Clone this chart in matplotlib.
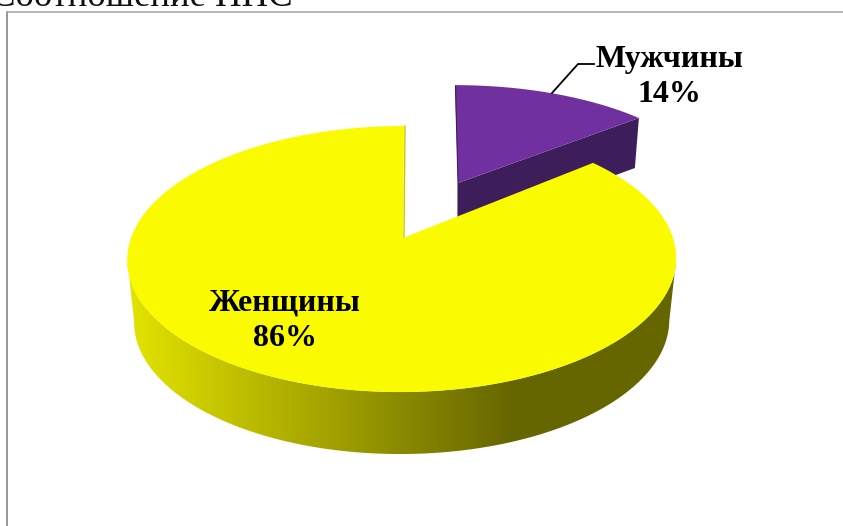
import numpy as np
import matplotlib
matplotlib.use("Agg")
import matplotlib.pyplot as plt
from matplotlib.colors import LinearSegmentedColormap
from matplotlib.patches import Polygon

categorias = ["Мужчины", "Женщины"]
valores = [14, 86]
titulo = "Соотношение ППС"

plt.rcParams['font.family'] = ['Liberation Serif', 'DejaVu Serif']


def proyectar(angulo, x0, y0, a, b, k, s=0.0):
    # angulo en grados, 0 arriba, sentido horario
    t = np.radians(angulo)
    u, v = np.sin(t), np.cos(t)
    d = 1 + k * v
    return x0 + b * u / d + s * v, y0 - a * v / d


fig = plt.figure(figsize=(8.43, 5.26), dpi=100)
ax = fig.add_axes([0, 0, 1, 1])
ax.set_xlim(0, 843)
ax.set_ylim(526, 0)
ax.axis('off')

# marco
ax.plot([7, 7], [12, 526], color='#858585', lw=1.2)
ax.plot([7, 843], [12, 12], color='#a8a8a8', lw=1.2)
fig.text(-9 / 843, 1 - 6 / 526, titulo, fontsize=26.5, color='#111111', va='baseline')

fin_hombres = 360 * valores[0] / sum(valores)

# porcion separada (morada)
ang = np.linspace(0, fin_hombres, 80)
xs, ys = proyectar(ang, 458, 183, 110, 256, 0.124, -3)
ax.add_patch(Polygon([[458, 183], [xs[-1], ys[-1]], [xs[-1] - 4, ys[-1] + 50], [458, 233]],
                     closed=True, fc='#3e1e5a', ec='none'))
ax.add_patch(Polygon([[458, 183]] + list(zip(xs, ys)), closed=True, fc='#7030a0', ec='none'))
ax.plot([xs[0] + 0.5, 458, 458], [ys[0] + 1, 183, 217], color='#3e1e5a', lw=0.8)

# lateral con degradado
a, b, k = 129.7, 271, 0.158
giro = np.degrees(np.arccos(-k))
ang = np.linspace(giro, 360 - giro, 120)
x1, y1 = proyectar(ang, 402, 238, a, b, k, 2)
x2, y2 = proyectar(ang[::-1], 402, 300, a, b * 0.975, k, 2)
lateral = Polygon(list(zip(x1, y1)) + list(zip(x2, y2)), closed=True, fc='none', ec='none')
ax.add_patch(lateral)
cmap = LinearSegmentedColormap.from_list('lado', [(0, '#e4e400'), (0.7, '#666600'), (1, '#666600')])
img = ax.imshow(np.linspace(0, 1, 256).reshape(1, -1), cmap=cmap, aspect='auto',
                extent=[127, 676, 460, 240], vmin=0, vmax=1, zorder=1)
img.set_clip_path(lateral)
ax.set_xlim(0, 843)
ax.set_ylim(526, 0)

# porcion grande (amarilla)
ang = np.linspace(fin_hombres, 360, 300)
xs, ys = proyectar(ang, 402, 238, a, b, k, 2)
ax.add_patch(Polygon([[403, 238]] + list(zip(xs, ys)), closed=True, fc='#fbfb00', ec='none', zorder=2))
ax.plot([xs[-1] + 1, 404], [ys[-1], 237], color='#c9c900', lw=1, zorder=2)

# etiquetas
ax.plot([552, 578, 594], [93, 64, 64], color='black', lw=1.3, zorder=3)
ax.text(669, 77, f"{categorias[0]}\n{valores[0]}%", ha='center', va='center', fontsize=23,
        fontweight='bold', color='black', linespacing=1.28, zorder=4)
ax.text(285, 321, f"{categorias[1]}\n{valores[1]}%", ha='center', va='center', fontsize=23,
        fontweight='bold', color='black', linespacing=1.28, zorder=4)

fig.savefig('out.png', dpi=100)
